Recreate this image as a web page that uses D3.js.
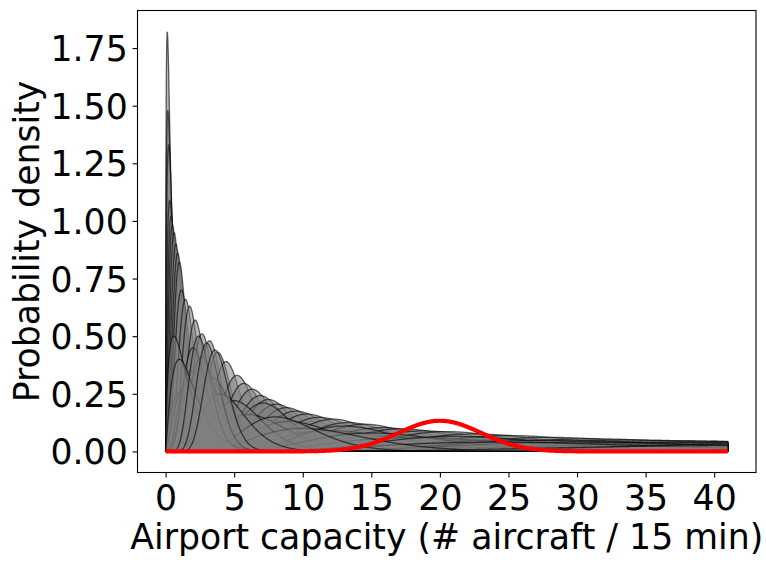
<!DOCTYPE html>
<html>
<head>
<meta charset="utf-8">
<script src="https://cdn.jsdelivr.net/npm/d3@7"></script>
<style>
  html, body { margin: 0; padding: 0; background: #fff; }
  svg text { font-family: "DejaVu Sans", sans-serif; fill: #000; }
</style>
</head>
<body>
<svg id="chart" width="766" height="565"></svg>
<script>
// ---- Data ----
// Each gray curve is a right-skewed (gamma-shaped) density, given by its mode
// (x of its peak) and its peak height.
const curveModes = [
  // curves whose peaks form the upper envelope
  0.12, 0.16, 0.22, 0.30, 0.40, 0.50, 0.62, 0.75, 0.88, 1.00,
  1.15, 1.45, 1.75, 2.15, 2.65, 3.20, 3.80, 4.40, 5.20, 5.70,
  6.30, 6.90, 7.50, 8.10, 8.80, 9.50, 10.3, 11.2, 12.2, 13.3,
  14.5, 15.8, 17.2, 18.8, 20.5, 22.5, 25.0, 28.0, 31.0, 34.0,
  37.0, 40.0, 43.0,
  // lower curves under the envelope
  1.25, 1.60, 1.90, 2.20, 2.96, 3.40, 2.60, 2.00, 7.10, 9.00,
  11.9, 6.00, 13.0, 18.0, 25.0, 33.0, 0.60, 5.00, 15.0, 21.0,
  28.0, 37.0, 40.0, 35.0, 30.0, 24.0, 10.0, 8.00, 4.00, 1.00,
  44.0, 42.0, 2.40, 3.00, 3.60
];
const curvePeaks = [
  1.82, 1.48, 1.33, 1.09, 1.02, 0.98, 0.95, 0.90, 0.86, 0.82,
  0.70, 0.66, 0.63, 0.57, 0.51, 0.48, 0.43, 0.39, 0.33, 0.295,
  0.27, 0.242, 0.225, 0.205, 0.19, 0.175, 0.162, 0.148, 0.14, 0.125,
  0.118, 0.103, 0.098, 0.089, 0.086, 0.076, 0.069, 0.061, 0.055, 0.050,
  0.047, 0.044, 0.041,
  0.26, 0.29, 0.35, 0.31, 0.30, 0.32, 0.41, 0.45, 0.21, 0.13,
  0.09, 0.16, 0.11, 0.06, 0.05, 0.035, 0.50, 0.22, 0.08, 0.065,
  0.048, 0.038, 0.030, 0.028, 0.040, 0.040, 0.10, 0.15, 0.25, 0.40,
  0.033, 0.025, 0.50, 0.47, 0.44
];
// Red reference curve: normal density
const redMean = 20;
const redSd = 3;
const xStart = 0, xEnd = 41;

const xTicks = [0, 5, 10, 15, 20, 25, 30, 35, 40];
const yTicks = [0, 0.25, 0.5, 0.75, 1.0, 1.25, 1.5, 1.75];
const xLabel = "Airport capacity (# aircraft / 15 min)";
const yLabel = "Probability density";

// ---- Helpers ----
function lnGamma(z) {
  const g = 7;
  const c = [0.99999999999980993, 676.5203681218851, -1259.1392167224028,
    771.32342877765313, -176.61502916214059, 12.507343278686905,
    -0.13857109526572012, 9.9843695780195716e-6, 1.5056327351493116e-7];
  if (z < 0.5) return Math.log(Math.PI / Math.sin(Math.PI * z)) - lnGamma(1 - z);
  z -= 1;
  let x = c[0];
  for (let i = 1; i < g + 2; i++) x += c[i] / (z + i);
  const t = z + g + 0.5;
  return 0.5 * Math.log(2 * Math.PI) + (z + 0.5) * Math.log(t) - t + Math.log(x);
}
// product mode*peak for a gamma of shape k
function modePeakProduct(k) {
  return Math.exp(k * Math.log(k - 1) - (k - 1) - lnGamma(k));
}
function shapeFromModePeak(m, h) {
  const p = m * h;
  let lo = 1.000001, hi = 500;
  for (let i = 0; i < 100; i++) {
    const mid = (lo + hi) / 2;
    if (modePeakProduct(mid) < p) lo = mid; else hi = mid;
  }
  return (lo + hi) / 2;
}
function gammaPdf(x, k, theta) {
  if (x <= 0) return k < 1 ? Infinity : (k === 1 ? 1 / theta : 0);
  return Math.exp((k - 1) * Math.log(x) - x / theta - lnGamma(k) - k * Math.log(theta));
}
function normalPdf(x, mu, sd) {
  return Math.exp(-0.5 * ((x - mu) / sd) ** 2) / (sd * Math.sqrt(2 * Math.PI));
}

// ---- Layout ----
const svg = d3.select("#chart");
const L = 137.5, R = 756, T = 10.5, B = 472.5;
const x = d3.scaleLinear().domain([-2.05, 43.05]).range([L, R]);
const y = d3.scaleLinear().domain([-0.0915, 1.913]).range([B, T]);

const grid = d3.range(0, 2501).map(i => xStart + (xEnd - xStart) * i / 2500);

svg.append("defs").append("clipPath").attr("id", "clip")
  .append("rect").attr("x", L).attr("y", T).attr("width", R - L).attr("height", B - T);

const plot = svg.append("g").attr("clip-path", "url(#clip)");

const area = d3.area()
  .x(d => x(d[0]))
  .y0(y(0))
  .y1(d => y(d[1]));

curveModes.forEach((m, i) => {
  const h = curvePeaks[i];
  const k = shapeFromModePeak(m, h);
  const theta = m / (k - 1);
  const pts = grid.map(v => [v, gammaPdf(v, k, theta)]);
  plot.append("path")
    .attr("d", area(pts) + "Z")
    .attr("fill", "#808080")
    .attr("fill-opacity", 0.55)
    .attr("stroke", "#000")
    .attr("stroke-opacity", 0.6)
    .attr("stroke-width", 1.3)
    .attr("stroke-linejoin", "round");
});

const redPts = grid.map(v => [v, normalPdf(v, redMean, redSd)]);
plot.append("path")
  .attr("d", d3.line().x(d => x(d[0])).y(d => y(d[1]))(redPts))
  .attr("fill", "none")
  .attr("stroke", "#ff0000")
  .attr("stroke-width", 4.2)
  .attr("stroke-linecap", "butt");

// ---- Axes ----
const fs = 34.7;
const xAxis = d3.axisBottom(x).tickValues(xTicks).tickSize(4.9).tickPadding(4.9).tickFormat(d3.format("d"));
const yAxis = d3.axisLeft(y).tickValues(yTicks).tickSize(4.9).tickPadding(4.9).tickFormat(d3.format(".2f"));

const gx = svg.append("g").attr("transform", `translate(0,${B})`).call(xAxis);
const gy = svg.append("g").attr("transform", `translate(${L},0)`).call(yAxis);
[gx, gy].forEach(g => {
  g.select(".domain").remove();
  g.selectAll(".tick line").attr("stroke", "#000").attr("stroke-width", 1.1);
  g.selectAll(".tick text").attr("font-size", fs).attr("font-family", "DejaVu Sans").attr("fill", "#000");
});
gx.selectAll(".tick text").attr("dy", null).attr("y", 0).attr("dominant-baseline", "auto")
  .attr("transform", "translate(0,37.8)");
gy.selectAll(".tick text").attr("dy", "0.36em");

svg.append("rect").attr("x", L).attr("y", T).attr("width", R - L).attr("height", B - T)
  .attr("fill", "none").attr("stroke", "#000").attr("stroke-width", 1.1);

svg.append("text")
  .attr("x", (L + R) / 2).attr("y", 549)
  .attr("text-anchor", "middle").attr("font-size", fs)
  .text(xLabel);

svg.append("text")
  .attr("transform", `translate(39,${(T + B) / 2}) rotate(-90)`)
  .attr("text-anchor", "middle").attr("font-size", fs)
  .text(yLabel);
</script>
</body>
</html>
